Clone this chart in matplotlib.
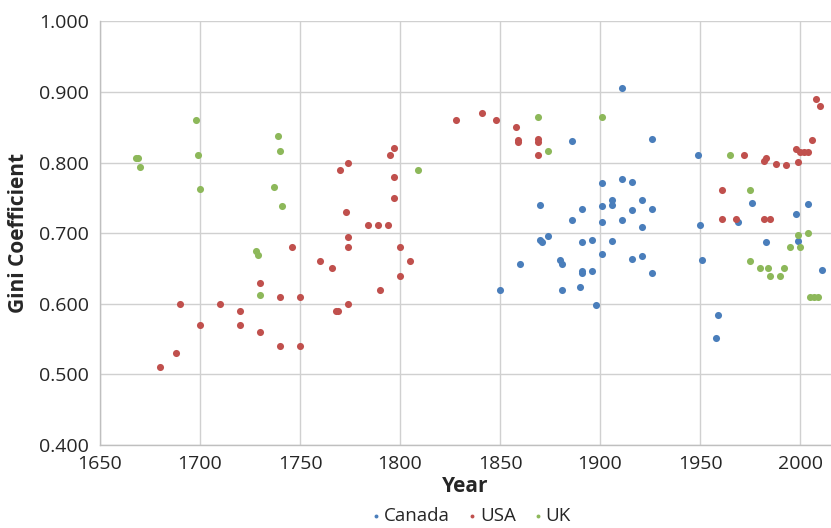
import matplotlib
matplotlib.use("Agg")
import matplotlib.pyplot as plt

plt.rcParams['font.family'] = ['Open Sans', 'DejaVu Sans']

# Data
canada_year = [1850, 1860, 1870, 1870, 1871, 1874, 1880, 1881, 1881, 1886, 1886, 1890,
               1891, 1891, 1891, 1891, 1896, 1896, 1898, 1901, 1901, 1901, 1901, 1906,
               1906, 1906, 1911, 1911, 1911, 1916, 1916, 1916, 1921, 1921, 1921, 1926,
               1926, 1926, 1949, 1950, 1951, 1958, 1959, 1969, 1976, 1983, 1998, 1999,
               2004, 2011]
canada_gini = [0.620, 0.656, 0.740, 0.691, 0.687, 0.696, 0.662, 0.657, 0.620, 0.831, 0.719, 0.624,
               0.734, 0.688, 0.647, 0.644, 0.690, 0.646, 0.598, 0.771, 0.739, 0.716, 0.671, 0.747,
               0.740, 0.689, 0.906, 0.777, 0.719, 0.772, 0.733, 0.664, 0.747, 0.709, 0.667, 0.833,
               0.734, 0.643, 0.810, 0.712, 0.662, 0.551, 0.584, 0.716, 0.743, 0.687, 0.727, 0.689,
               0.741, 0.648]

usa_year = [1680, 1688, 1690, 1700, 1710, 1720, 1720, 1730, 1730, 1740, 1740, 1746,
            1750, 1750, 1760, 1766, 1768, 1769, 1770, 1773, 1774, 1774, 1774, 1774,
            1784, 1789, 1790, 1794, 1795, 1797, 1797, 1797, 1800, 1800, 1805, 1828,
            1841, 1848, 1858, 1859, 1859, 1869, 1869, 1869, 1961, 1961, 1968, 1972,
            1982, 1982, 1983, 1985, 1988, 1993, 1998, 1999, 2000, 2002, 2004, 2006,
            2008, 2010]
usa_gini = [0.510, 0.530, 0.600, 0.570, 0.600, 0.590, 0.570, 0.630, 0.560, 0.610, 0.540, 0.680,
            0.610, 0.540, 0.660, 0.650, 0.590, 0.590, 0.789, 0.730, 0.800, 0.694, 0.680, 0.600,
            0.711, 0.711, 0.620, 0.711, 0.810, 0.820, 0.780, 0.750, 0.680, 0.640, 0.660, 0.860,
            0.870, 0.860, 0.850, 0.832, 0.829, 0.833, 0.829, 0.810, 0.761, 0.720, 0.720, 0.810,
            0.720, 0.802, 0.807, 0.720, 0.798, 0.796, 0.819, 0.801, 0.815, 0.815, 0.815, 0.832,
            0.890, 0.880]

uk_year = [1668, 1669, 1670, 1698, 1699, 1700, 1728, 1729, 1730, 1737, 1739, 1740,
           1741, 1809, 1869, 1874, 1901, 1965, 1975, 1975, 1980, 1984, 1985, 1990,
           1992, 1995, 1999, 2000, 2004, 2005, 2007, 2009]
uk_gini = [0.806, 0.807, 0.794, 0.860, 0.811, 0.762, 0.675, 0.669, 0.613, 0.765, 0.838, 0.816,
           0.738, 0.789, 0.864, 0.816, 0.864, 0.810, 0.761, 0.660, 0.650, 0.650, 0.640, 0.640,
           0.650, 0.680, 0.697, 0.680, 0.700, 0.610, 0.610, 0.610]

x_ticks = [1650, 1700, 1750, 1800, 1850, 1900, 1950, 2000]
y_ticks = [0.4, 0.5, 0.6, 0.7, 0.8, 0.9, 1.0]

text_col = '#262626'
grid_col = '#d0d0d0'

fig = plt.figure(figsize=(8.31, 5.28), dpi=100)
ax = fig.add_axes([100 / 831, 1 - 445 / 528, 731 / 831, (445 - 21.3) / 528])

ax.scatter(canada_year, canada_gini, s=26, color='#4a7ebb', label='Canada', zorder=3, linewidths=0)
ax.scatter(usa_year, usa_gini, s=26, color='#c0504d', label='USA', zorder=3, linewidths=0)
ax.scatter(uk_year, uk_gini, s=26, color='#8db85a', label='UK', zorder=3, linewidths=0)

ax.set_xlim(1650, 2015.5)
ax.set_ylim(0.4, 1.0)
ax.set_xticks(x_ticks)
ax.set_yticks(y_ticks)
ax.set_yticklabels(['%.3f' % v for v in y_ticks])
ax.grid(True, color=grid_col, linewidth=1)
ax.set_axisbelow(True)
ax.tick_params(length=0, labelsize=14, colors=text_col)
ax.tick_params(axis='y', pad=8)
ax.tick_params(axis='x', pad=7)

for side in ['top', 'right']:
    ax.spines[side].set_visible(False)
for side in ['left', 'bottom']:
    ax.spines[side].set_color('#bfbfbf')
    ax.spines[side].set_linewidth(1)

ax.set_xlabel('Year', fontsize=15, fontweight='bold', color=text_col, labelpad=2)
ax.set_ylabel('Gini Coefficient', fontsize=15, fontweight='bold', color=text_col, labelpad=7)

fig.legend(loc='center', bbox_to_anchor=(468 / 831, 1 - 516 / 528), ncol=3, frameon=False,
           fontsize=13.5, markerscale=0.55, handletextpad=-0.2, columnspacing=0.6,
           handlelength=1.2, labelcolor=text_col, borderpad=0)

fig.savefig('out.png', dpi=100)
